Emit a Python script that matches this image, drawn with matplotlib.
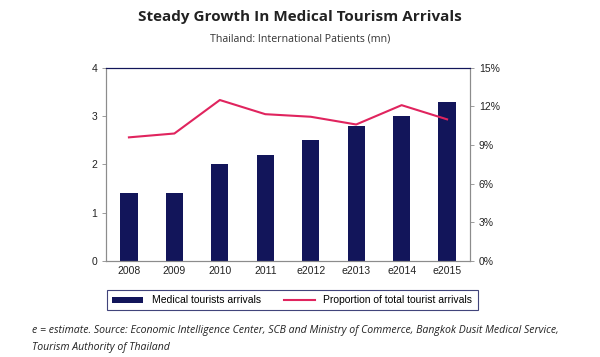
import numpy as np
import matplotlib.pyplot as plt
from matplotlib.ticker import FuncFormatter

plt.rcParams["font.family"] = "Liberation Sans"

years = ["2008", "2009", "2010", "2011", "e2012", "e2013", "e2014", "e2015"]
arrivals = [1.4, 1.4, 2.0, 2.2, 2.5, 2.8, 3.0, 3.3]
proportion = [9.6, 9.9, 12.5, 11.4, 11.2, 10.6, 12.1, 11.0]

navy = "#12155a"
pink = "#e0245e"
grey = "#8c8c8c"

fig = plt.figure(figsize=(6, 3.57), dpi=100)
ax = fig.add_axes([0.177, 0.269, 0.606, 0.541])
x = np.arange(len(years))

ax.bar(x, arrivals, width=0.38, color=navy, label="Medical tourists arrivals", zorder=2)
ax.set_ylim(0, 4)
ax.set_yticks([0, 1, 2, 3, 4])
ax.set_xlim(-0.5, len(years) - 0.5)
ax.set_xticks(x)
ax.set_xticklabels(years)

ax2 = ax.twinx()
ax2.plot(x, proportion, color=pink, lw=1.5, label="Proportion of total tourist arrivals")
ax2.set_ylim(0, 15)
ax2.set_yticks([0, 3, 6, 9, 12, 15])
ax2.yaxis.set_major_formatter(FuncFormatter(lambda v, p: f"{v:.0f}%"))

for a in (ax, ax2):
    for s in a.spines.values():
        s.set_color(grey)
        s.set_linewidth(0.8)
    a.spines["top"].set_color(navy)
    a.tick_params(labelsize=7.5, colors="#222222", length=3, width=0.6, color=grey)
ax.tick_params(axis="x", length=0)

# legend box below the plot
h1, l1 = ax.get_legend_handles_labels()
h2, l2 = ax2.get_legend_handles_labels()
leg = fig.legend(h1 + h2, l1 + l2, loc="center", bbox_to_anchor=(0.487, 0.159),
                 ncol=2, frameon=True, fancybox=False,
                 prop={"family": "Liberation Sans", "size": 7.5},
                 handlelength=3.0, handleheight=0.5, columnspacing=2.2, borderpad=0.5)
leg.get_frame().set_edgecolor(navy)
leg.get_frame().set_linewidth(0.8)

fig.text(0.5, 0.952, "Steady Growth In Medical Tourism Arrivals", ha="center", va="center",
         fontsize=11, fontweight="bold", family="Open Sans", color="#222222")
fig.text(0.5, 0.89, "Thailand: International Patients (mn)", ha="center", va="center",
         fontsize=7.7, family="Open Sans", color="#333333")

fig.text(0.053, 0.075, "e = estimate. Source: Economic Intelligence Center, SCB and Ministry of Commerce, Bangkok Dusit Medical Service,",
         ha="left", va="center", fontsize=7.6, style="italic", family="Open Sans", color="#222222")
fig.text(0.053, 0.028, "Tourism Authority of Thailand",
         ha="left", va="center", fontsize=7.6, style="italic", family="Open Sans", color="#222222")

fig.savefig("out.png", dpi=100, facecolor="white")
